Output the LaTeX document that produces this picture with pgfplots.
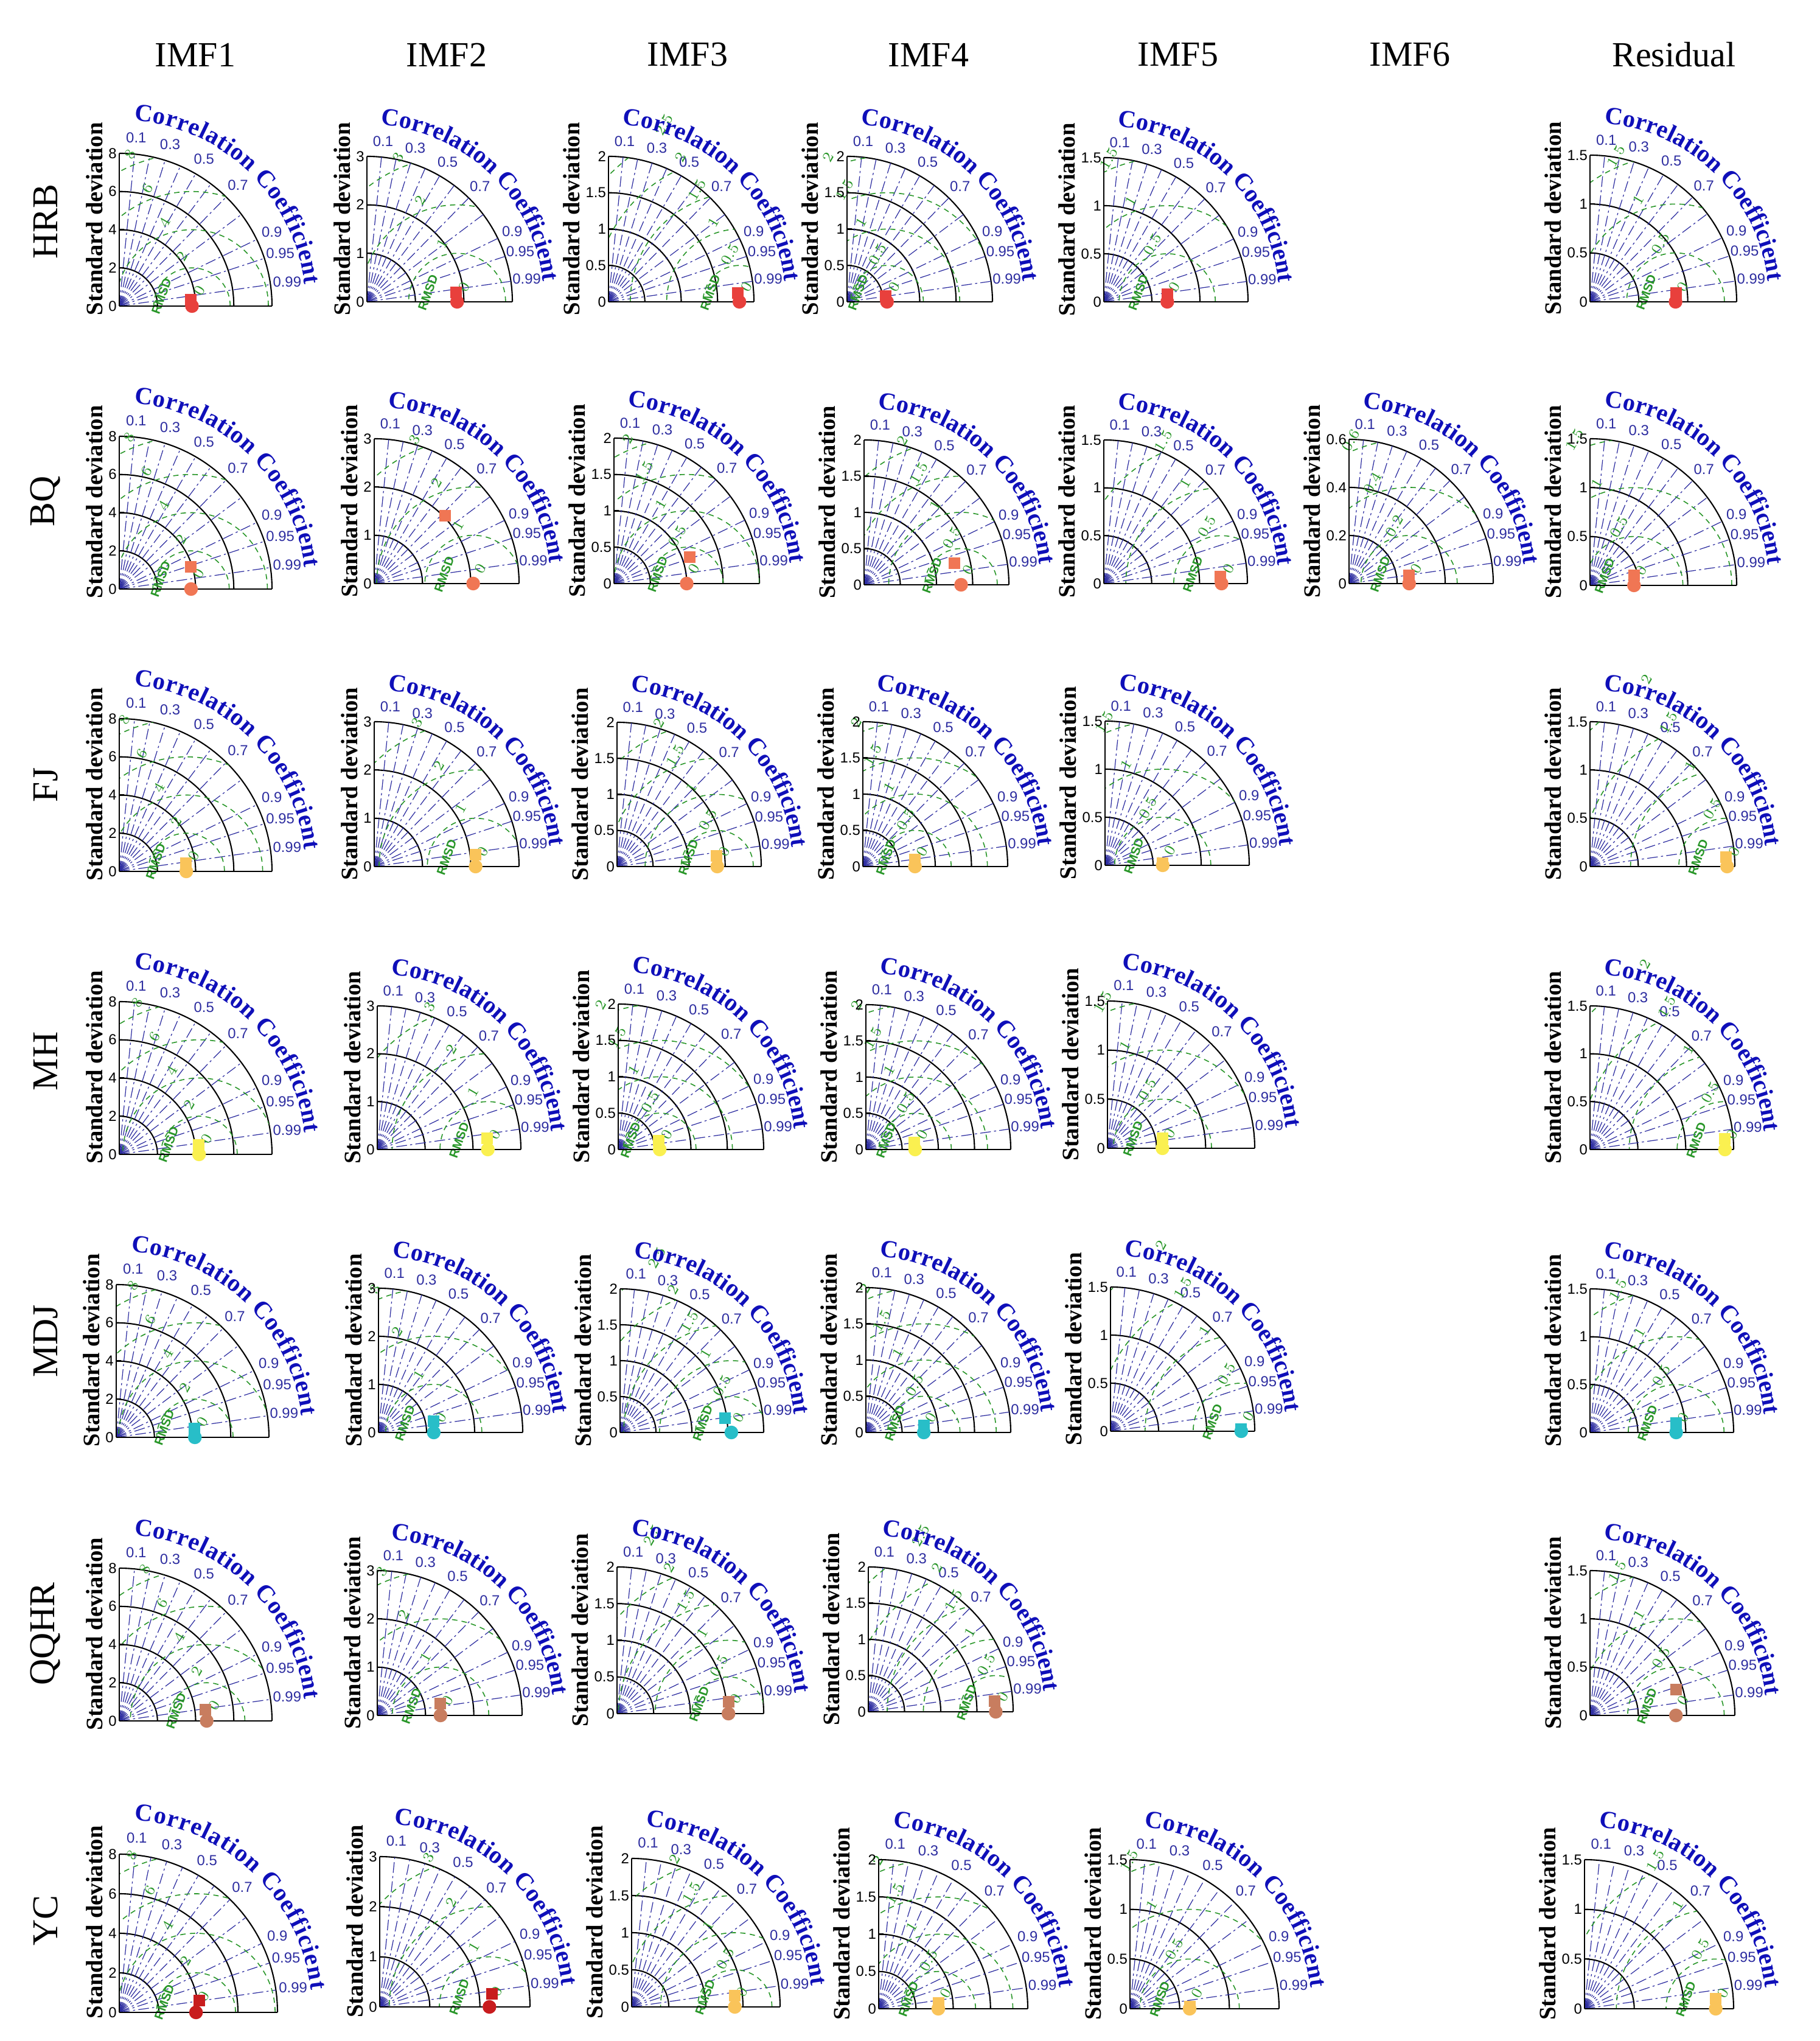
\documentclass[border=0pt]{standalone}
\usepackage{fontspec}
\setmainfont{Liberation Serif}
\newfontfamily\arial{Liberation Sans}
\usepackage{pgfplots}
\pgfplotsset{compat=1.18}
\usetikzlibrary{decorations.text}

\definecolor{cblue}{RGB}{15,15,185}
\definecolor{lblue}{RGB}{45,45,160}
\definecolor{rgreen}{RGB}{40,150,40}
\definecolor{hrb}{RGB}{232,64,60}
\definecolor{bq}{RGB}{240,118,84}
\definecolor{fj}{RGB}{250,196,90}
\definecolor{mh}{RGB}{250,240,80}
\definecolor{mdj}{RGB}{40,190,200}
\definecolor{qq}{RGB}{200,125,95}
\definecolor{ycr}{RGB}{200,28,30}

\newcommand\tickfont{\arial\fontsize{6.8}{7.5}\selectfont}
\newcommand\ccfont{\bfseries\fontsize{11.5}{12}\selectfont}
\newcommand\sdfont{\bfseries\fontsize{11}{12}\selectfont}
\newcommand\rmsdfont{\arial\bfseries\fontsize{5.8}{6}\selectfont}

\tikzset{
  stdarc/.style={black, line width=0.6pt},
  corr/.style={lblue, line width=0.35pt, dash pattern=on 5pt off 1.5pt on 1pt off 1.5pt},
  rms/.style={rgreen, line width=0.45pt, dash pattern=on 2.5pt off 2pt},
  clab/.style={font=\tickfont, text=lblue, inner sep=0pt},
  rlab/.style={font=\tickfont, text=rgreen, inner sep=0pt, rotate=60},
}

% #1 x0 px, #2 y0 px (from top), #3 radius px, #4 max std, #5 step,
% #6 reference std, #7,#8 model point, #9 colour
\newcommand{\taylor}[9]{%
  \pgfmathsetmacro{\ox}{#1/100}%
  \pgfmathsetmacro{\oy}{(3354-#2)/100}%
  \pgfmathsetmacro{\R}{#3/100}%
  \pgfmathsetmacro{\u}{\R/#4}%
  \pgfmathtruncatemacro{\nt}{round(#4/#5)}%
  \pgfmathtruncatemacro{\nr}{floor(sqrt(#4*#4+#6*#6)/#5+0.001)}%
  \begin{scope}[shift={(\ox,\oy)}, x=\u cm, y=\u cm]
    \foreach \k in {1,...,\nt}{\draw[stdarc] ({\k*#5},0) arc[start angle=0,end angle=90,radius={\k*#5}];}
    \foreach \c in {0.1,0.2,0.3,0.4,0.5,0.6,0.7,0.8,0.9,0.95,0.99}{\draw[corr] (0,0) -- ({acos(\c)}:#4);}
    \foreach \c in {0.1,0.3,0.5,0.7,0.9,0.95,0.99}{\node[clab] at ({acos(\c)}:{1.11*#4}) {\c};}
    \begin{scope}
      \clip (0,0) -- (#4,0) arc[start angle=0,end angle=90,radius=#4] -- cycle;
      \foreach \k in {1,...,\nr}{\draw[rms] (#6,0) circle[radius={\k*#5}];}
    \end{scope}
    \foreach \k in {0,...,\nr}{%
      \pgfmathsetmacro{\v}{\k*#5}%
      \node[rlab] at ({#6+0.1*#4+(\v+0.115*#4)*cos(117)},{(\v+0.115*#4)*sin(117)}) {\pgfmathprintnumber{\v}};}
    \node[font=\rmsdfont, text=rgreen, rotate=70, inner sep=0pt] at ({#6-0.2*#4},{0.065*#4}) {RMSD};
    \path[decorate, decoration={text along path, text={|\ccfont|Correlation Coefficient},
      text align={fit to path}, text color=cblue}]
      (85.5:{1.22*#4}) arc[start angle=85.5,end angle=6.5,radius={1.22*#4}];
  \end{scope}
  \begin{axis}[
    at={(\ox cm,\oy cm)}, anchor=south west,
    scale only axis, width=\R cm, height=\R cm,
    xmin=0, xmax=#4, ymin=0, ymax=#4,
    axis x line*=bottom, axis y line*=left,
    axis line style={line width=0.8pt},
    xtick=\empty, ytick distance=#5,
    tick align=inside, major tick length=0.08cm,
    tick style={black, line width=0.6pt},
    /pgf/number format/assume math mode=true,
    yticklabel style={font=\tickfont, inner sep=1pt},
    ylabel={Standard deviation},
    ylabel style={font=\sdfont, at={(ticklabel cs:0.57)}, inner sep=1.5pt},
    clip=false,
  ]
    \addplot[only marks, mark=*, mark size=3pt, color=#9] coordinates {(#6,0)};
    \addplot[only marks, mark=square*, mark size=2.5pt, color=#9] coordinates {(#7,#8)};
  \end{axis}
}

\begin{document}
\begin{tikzpicture}
\path[use as bounding box] (0,0) rectangle (29.91,33.54);

% column titles
\foreach \x/\t in {3.21/IMF1,7.34/IMF2,11.30/IMF3,15.26/IMF4,19.36/IMF5,23.17/IMF6,27.51/Residual}
  \node[font=\fontsize{16.5}{18}\selectfont] at (\x,32.64) {\t};
% row titles
\foreach \y/\t in {29.90/HRB,25.30/BQ,20.64/FJ,16.10/MH,11.50/MDJ,6.69/QQHR,1.98/YC}
  \node[font=\fontsize{17}{18}\selectfont, rotate=90] at (0.75,\y) {\t};

% HRB
\taylor{196}{503}{251}{8}{2}{3.81}{3.76}{0.32}{hrb}
\taylor{603}{496}{239}{3}{1}{1.86}{1.84}{0.19}{hrb}
\taylor{1000}{496}{239}{2}{0.5}{1.80}{1.78}{0.12}{hrb}
\taylor{1392}{496}{239}{2}{0.5}{0.55}{0.53}{0.08}{hrb}
\taylor{1814}{496}{237}{1.5}{0.5}{0.66}{0.66}{0.08}{hrb}
\taylor{2613}{496}{241}{1.5}{0.5}{0.875}{0.88}{0.09}{hrb}
% BQ
\taylor{196}{968}{251}{8}{2}{3.76}{3.76}{1.15}{bq}
\taylor{615}{959}{238}{3}{1}{2.05}{1.47}{1.41}{bq}
\taylor{1009}{959}{239}{2}{0.5}{1.00}{1.04}{0.36}{bq}
\taylor{1420}{961}{238}{2}{0.5}{1.34}{1.25}{0.30}{bq}
\taylor{1814}{959}{236}{1.5}{0.5}{1.23}{1.22}{0.07}{bq}
\taylor{2217}{959}{237}{0.6}{0.2}{0.25}{0.25}{0.035}{bq}
\taylor{2613}{962}{241}{1.5}{0.5}{0.45}{0.45}{0.10}{bq}
% FJ
\taylor{196}{1432}{251}{8}{2}{3.51}{3.50}{0.42}{fj}
\taylor{615}{1424}{238}{3}{1}{2.10}{2.10}{0.25}{fj}
\taylor{1014}{1424}{237}{2}{0.5}{1.39}{1.38}{0.15}{fj}
\taylor{1418}{1424}{238}{2}{0.5}{0.72}{0.72}{0.10}{fj}
\taylor{1816}{1422}{237}{1.5}{0.5}{0.60}{0.60}{0.02}{fj}
\taylor{2613}{1424}{238}{1.5}{0.5}{1.42}{1.41}{0.10}{fj}
% MH
\taylor{196}{1897}{251}{8}{2}{4.18}{4.15}{0.50}{mh}
\taylor{620}{1889}{236}{3}{1}{2.31}{2.30}{0.24}{mh}
\taylor{1016}{1889}{239}{2}{0.5}{0.57}{0.56}{0.12}{mh}
\taylor{1423}{1889}{238}{2}{0.5}{0.68}{0.67}{0.10}{mh}
\taylor{1820}{1887}{242}{1.5}{0.5}{0.56}{0.56}{0.10}{mh}
\taylor{2613}{1889}{236}{1.5}{0.5}{1.41}{1.41}{0.11}{mh}
% MDJ
\taylor{191}{2362}{251}{8}{2}{4.12}{4.10}{0.45}{mdj}
\taylor{622}{2354}{237}{3}{1}{1.15}{1.15}{0.24}{mdj}
\taylor{1019}{2354}{236}{2}{0.5}{1.55}{1.46}{0.20}{mdj}
\taylor{1423}{2354}{238}{2}{0.5}{0.80}{0.80}{0.10}{mdj}
\taylor{1825}{2352}{237}{1.5}{0.5}{1.36}{1.36}{0.02}{mdj}
\taylor{2613}{2354}{236}{1.5}{0.5}{0.90}{0.90}{0.10}{mdj}
% QQHR
\taylor{196}{2828}{251}{8}{2}{4.58}{4.52}{0.60}{qq}
\taylor{620}{2819}{238}{3}{1}{1.31}{1.31}{0.24}{qq}
\taylor{1014}{2816}{241}{2}{0.5}{1.52}{1.52}{0.16}{qq}
\taylor{1427}{2813}{238}{2}{0.5}{1.76}{1.74}{0.15}{qq}
\taylor{2613}{2819}{238}{1.5}{0.5}{0.89}{0.89}{0.27}{qq}
% YC
\taylor{196}{3307}{260}{8}{2}{3.88}{4.06}{0.59}{ycr}
\taylor{624}{3298}{247}{3}{1}{2.19}{2.24}{0.26}{ycr}
\taylor{1038}{3298}{244}{2}{0.5}{1.39}{1.39}{0.15}{fj}
\taylor{1444}{3301}{245}{2}{0.5}{0.80}{0.80}{0.08}{fj}
\taylor{1857}{3301}{245}{1.5}{0.5}{0.60}{0.60}{0.02}{fj}
\taylor{2604}{3301}{245}{1.5}{0.5}{1.32}{1.32}{0.10}{fj}
\end{tikzpicture}
\end{document}
